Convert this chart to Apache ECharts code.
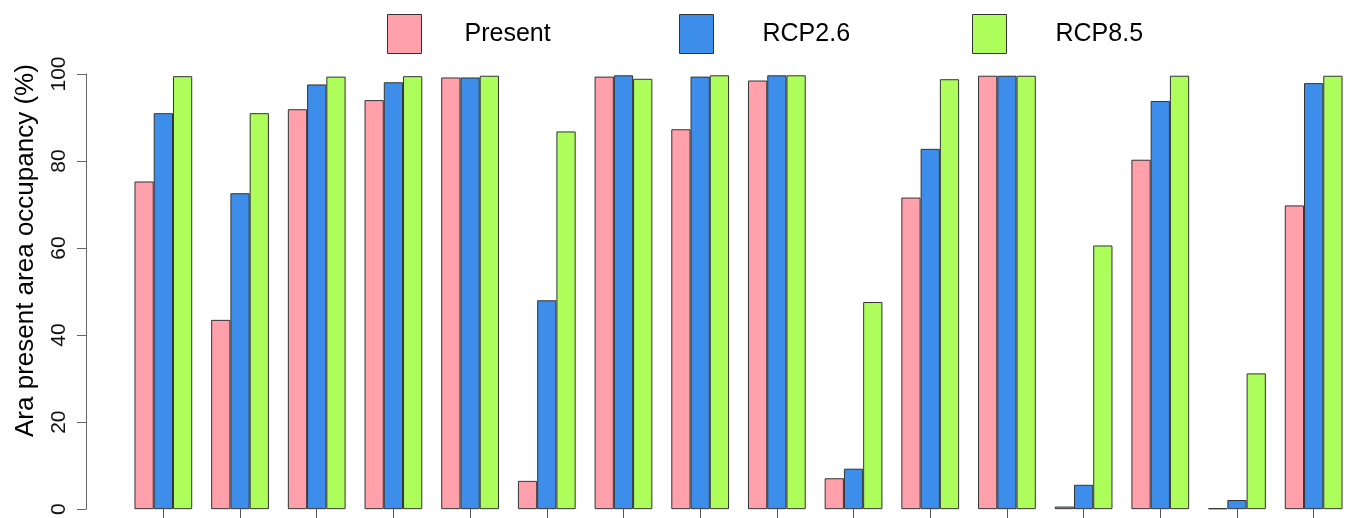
<!DOCTYPE html>
<html>
<head>
<meta charset="utf-8">
<script src="https://cdn.jsdelivr.net/npm/echarts@6/dist/echarts.min.js"></script>
<style>
  html, body { margin: 0; padding: 0; background: #ffffff; }
  #chart { width: 1352px; height: 518px; }
</style>
</head>
<body>
<div id="chart"></div>
<script>
// Sixteen sites, three scenarios of area occupancy (%)
const sites = ['S1', 'S2', 'S3', 'S4', 'S5', 'S6', 'S7', 'S8',
               'S9', 'S10', 'S11', 'S12', 'S13', 'S14', 'S15', 'S16'];
const seriesNames = ['Present', 'RCP2.6', 'RCP8.5'];
const present = [75.3, 43.5, 91.9, 94.0, 99.2, 6.5, 99.4, 87.3, 98.5, 7.1, 71.6, 99.6, 0.6, 80.3, 0.2, 69.8];
const rcp26   = [91.0, 72.6, 97.6, 98.1, 99.2, 48.0, 99.7, 99.4, 99.7, 9.3, 82.8, 99.6, 5.6, 93.8, 2.1, 97.9];
const rcp85   = [99.5, 91.0, 99.4, 99.5, 99.6, 86.8, 98.9, 99.7, 99.7, 47.6, 98.8, 99.6, 60.6, 99.6, 31.2, 99.6];
const yTickValues = [0, 20, 40, 60, 80, 100];

const colors = ['#FFA0AB', '#3D8EEA', '#ADFD5B'];
const FONT = '"Liberation Sans", Arial, sans-serif';

const chart = echarts.init(document.getElementById('chart'), null, { renderer: 'canvas' });

// one legend block per scenario so each sits at its own fixed column
function legendFor(name, left, padLeft) {
  return {
    data: [name],
    left: left,
    top: 9,
    orient: 'horizontal',
    icon: 'rect',
    itemWidth: 34,
    itemHeight: 39,
    selectedMode: false,
    itemStyle: { borderColor: '#333', borderWidth: 1 },
    textStyle: { fontFamily: FONT, fontSize: 25, color: '#000', padding: [0, 0, 0, padLeft] }
  };
}

const option = {
  animation: false,
  backgroundColor: '#ffffff',
  legend: [
    legendFor(seriesNames[0], 382, 38),
    legendFor(seriesNames[1], 674, 44),
    legendFor(seriesNames[2], 967, 44)
  ],
  grid: { left: 125, top: 74, width: 1232, bottom: 8, containLabel: false },
  xAxis: {
    type: 'category',
    data: sites,
    axisLine: { show: false },
    axisTick: { show: true, alignWithLabel: true, interval: 0, length: 10, lineStyle: { color: '#555', width: 1 } },
    axisLabel: { show: false },
    splitLine: { show: false }
  },
  yAxis: {
    type: 'value',
    min: yTickValues[0],
    max: yTickValues[yTickValues.length - 1],
    interval: yTickValues[1] - yTickValues[0],
    offset: 39,
    name: 'Ara present area occupancy (%)',
    nameLocation: 'middle',
    nameRotate: 90,
    nameGap: 47,
    nameTextStyle: { fontFamily: FONT, fontSize: 26, color: '#000', padding: [0, 0, 0, 82] },
    axisLine: { show: true, lineStyle: { color: '#666', width: 1 } },
    axisTick: { show: true, length: 9, lineStyle: { color: '#666', width: 1 } },
    axisLabel: { rotate: 90, margin: 16, fontFamily: FONT, fontSize: 21, color: '#111' },
    splitLine: { show: false }
  },
  series: [present, rcp26, rcp85].map((vals, i) => ({
    name: seriesNames[i],
    type: 'bar',
    data: vals,
    barWidth: 19.25,
    barGap: '0%',
    itemStyle: { color: colors[i], borderColor: '#333', borderWidth: 1 }
  }))
};

chart.setOption(option);
</script>
</body>
</html>
